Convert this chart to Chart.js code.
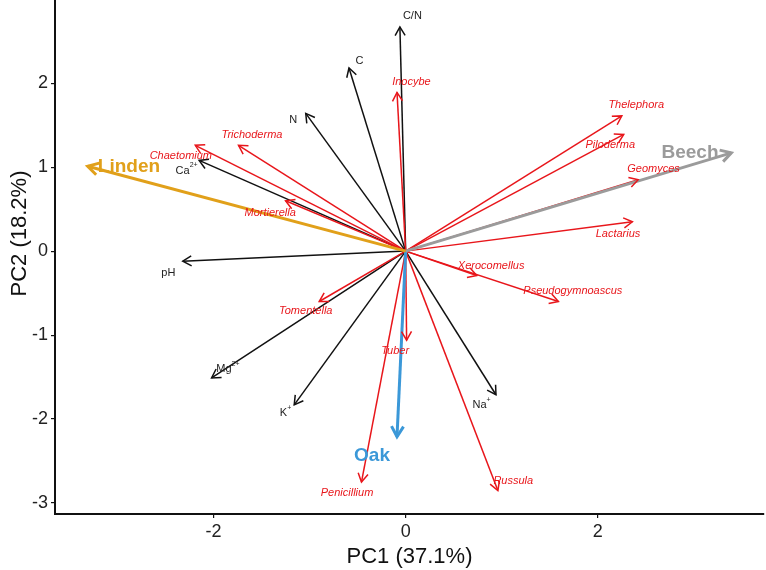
<!DOCTYPE html>
<html>
<head>
<meta charset="utf-8">
<script src="https://cdn.jsdelivr.net/npm/chart.js@4/dist/chart.umd.min.js"></script>
<style>
  html, body { margin: 0; padding: 0; background: #fff; }
</style>
</head>
<body>
<canvas id="chart" width="766" height="570"></canvas>
<script>
// soil variables (black arrows)
var envNames = ["C/N", "C", "N", "Ca", "pH", "Mg", "K", "Na"];
var envSup   = ["", "", "", "2+", "", "2+", "+", "+"];
var envX     = [-0.06, -0.59, -1.04, -2.15, -2.32, -2.02, -1.16, 0.94];
var envY     = [2.67, 2.18, 1.64, 1.08, -0.12, -1.51, -1.83, -1.71];
var envLabX  = [0.07, -0.48, -1.17, -2.28, -2.47, -1.85, -1.25, 0.79];
var envLabY  = [2.80, 2.27, 1.56, 0.96, -0.26, -1.40, -1.93, -1.83];

// fungal genera (red arrows)
var genusNames = ["Inocybe", "Trichoderma", "Chaetomium", "Mortierella", "Thelephora", "Piloderma",
                  "Geomyces", "Lactarius", "Xerocomellus", "Pseudogymnoascus", "Tomentella", "Tuber",
                  "Penicillium", "Russula"];
var genusX    = [-0.09, -1.74, -2.19, -1.25, 2.25, 2.27, 2.42, 2.36, 0.74, 1.59, -0.90, 0.01, -0.46, 0.96];
var genusY    = [1.89, 1.26, 1.26, 0.60, 1.61, 1.39, 0.85, 0.35, -0.29, -0.60, -0.60, -1.06, -2.75, -2.85];
var genusLabX = [0.06, -1.60, -2.34, -1.41, 2.40, 2.13, 2.58, 2.21, 0.89, 1.74, -1.04, -0.11, -0.61, 1.12];
var genusLabY = [2.02, 1.38, 1.13, 0.46, 1.74, 1.27, 0.98, 0.21, -0.18, -0.48, -0.71, -1.19, -2.88, -2.74];

// tree species (thick arrows)
var treeNames  = ["Linden", "Beech", "Oak"];
var treeColors = ["#e1a01a", "#9b9b9b", "#3b98d8"];
var treeX      = [-3.31, 3.39, -0.09];
var treeY      = [1.01, 1.17, -2.21];
var treeLabX   = [-2.88, 2.96, -0.35];
var treeLabY   = [1.01, 1.17, -2.44];

var xTicks = [-2, 0, 2];
var yTicks = [-3, -2, -1, 0, 1, 2];

var RED = "#e8161b";
var FONT = "'Liberation Sans', Arial, sans-serif";

var datasets = [];
function addArrow(x, y, color, width, order, label, sup, labX, labY, font) {
  datasets.push({
    type: "scatter",
    showLine: true,
    data: [{x: 0, y: 0}, {x: x, y: y}],
    borderColor: color,
    borderWidth: width,
    pointRadius: 0,
    order: order,
    arrowLabel: label, arrowSup: sup, labX: labX, labY: labY, labFont: font
  });
}
for (var i = 0; i < envNames.length; i++)
  addArrow(envX[i], envY[i], "#111", 1.5, 2, envNames[i], envSup[i], envLabX[i], envLabY[i], "11px " + FONT);
for (var i = 0; i < genusNames.length; i++)
  addArrow(genusX[i], genusY[i], RED, 1.5, 1, genusNames[i], "", genusLabX[i], genusLabY[i], "italic 11px " + FONT);
for (var i = 0; i < treeNames.length; i++)
  addArrow(treeX[i], treeY[i], treeColors[i], 3, 0, treeNames[i], "", treeLabX[i], treeLabY[i], "bold 19px " + FONT);

var arrowPlugin = {
  id: "arrows",
  afterDatasetsDraw: function(chart) {
    var ctx = chart.ctx;
    var xs = chart.scales.x, ys = chart.scales.y;
    ctx.save();
    // heads
    chart.data.datasets.forEach(function(ds) {
      var x0 = xs.getPixelForValue(0), y0 = ys.getPixelForValue(0);
      var x1 = xs.getPixelForValue(ds.data[1].x), y1 = ys.getPixelForValue(ds.data[1].y);
      var a = Math.atan2(y1 - y0, x1 - x0);
      var len = ds.borderWidth > 2 ? 12 : 10;
      ctx.strokeStyle = ds.borderColor;
      ctx.lineWidth = ds.borderWidth;
      ctx.lineJoin = "miter";
      ctx.beginPath();
      ctx.moveTo(x1 - len * Math.cos(a - Math.PI / 6), y1 - len * Math.sin(a - Math.PI / 6));
      ctx.lineTo(x1, y1);
      ctx.lineTo(x1 - len * Math.cos(a + Math.PI / 6), y1 - len * Math.sin(a + Math.PI / 6));
      ctx.stroke();
    });
    // labels
    chart.data.datasets.forEach(function(ds) {
      var px = xs.getPixelForValue(ds.labX), py = ys.getPixelForValue(ds.labY);
      ctx.font = ds.labFont;
      ctx.fillStyle = ds.borderColor === "#111" ? "#222" : ds.borderColor;
      ctx.textBaseline = "middle";
      var w = ctx.measureText(ds.arrowLabel).width;
      var supW = 0;
      if (ds.arrowSup) {
        ctx.font = "7px " + FONT;
        supW = ctx.measureText(ds.arrowSup).width;
        ctx.font = ds.labFont;
      }
      var left = px - (w + supW) / 2;
      ctx.textAlign = "left";
      ctx.fillText(ds.arrowLabel, left, py);
      if (ds.arrowSup) {
        ctx.font = "7px " + FONT;
        ctx.fillText(ds.arrowSup, left + w, py - 5);
      }
    });
    // y axis title
    ctx.font = "22px " + FONT;
    ctx.fillStyle = "#111";
    ctx.textAlign = "center";
    ctx.textBaseline = "middle";
    ctx.translate(20, ys.getPixelForValue(0.21));
    ctx.rotate(-Math.PI / 2);
    ctx.fillText("PC2 (18.2%)", 0, 0);
    ctx.restore();
  }
};

new Chart(document.getElementById("chart").getContext("2d"), {
  type: "scatter",
  data: { datasets: datasets },
  options: {
    responsive: false,
    animation: false,
    devicePixelRatio: 1,
    layout: { padding: { top: 0, right: 2, left: 0, bottom: 0 } },
    plugins: { legend: { display: false }, tooltip: { enabled: false } },
    scales: {
      x: {
        type: "linear", min: -3.65, max: 3.73,
        afterBuildTicks: function(s) { s.ticks = xTicks.map(function(v) { return {value: v}; }); },
        afterFit: function(s) { s.height = 56; s.paddingLeft = 0; s.paddingRight = 0; },
        grid: { drawOnChartArea: false, drawTicks: true, tickLength: 4, color: "#111", lineWidth: 1.2 },
        border: { display: true, color: "#111", width: 2 },
        ticks: { font: { size: 18, family: FONT }, color: "#222", padding: 3, maxRotation: 0 },
        title: { display: true, text: "PC1 (37.1%)", font: { size: 22, family: FONT }, color: "#111", padding: { top: 0, bottom: 0 } }
      },
      y: {
        type: "linear", min: -3.13, max: 2.99,
        afterBuildTicks: function(s) { s.ticks = yTicks.map(function(v) { return {value: v}; }); },
        afterFit: function(s) { s.width = 55; s.paddingTop = 0; s.paddingBottom = 0; },
        grid: { drawOnChartArea: false, drawTicks: true, tickLength: 4, color: "#111", lineWidth: 1.2 },
        border: { display: true, color: "#111", width: 2 },
        ticks: { font: { size: 18, family: FONT }, color: "#222", padding: 3 }
      }
    }
  },
  plugins: [arrowPlugin]
});
</script>
</body>
</html>
